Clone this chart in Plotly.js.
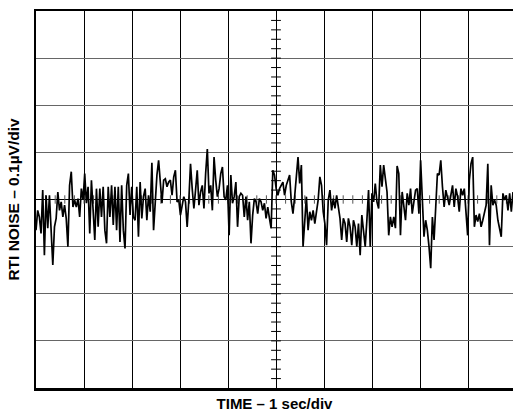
<!DOCTYPE html>
<html>
<head>
<meta charset="utf-8">
<script src="https://cdn.plot.ly/plotly-3.0.1.min.js"></script>
<style>
html,body{margin:0;padding:0;background:#fff;overflow:hidden;}
#chart{width:513px;height:418px;}
</style>
</head>
<body>
<div id="chart"></div>
<script>
// RTI noise trace, values in nV (0.1 µV = 100 nV per division)
const noiseSeg1 = [-65,-23,-37,-72,20,-118,9,-61,9,-86,-139,-58,-40,16,-23,-5,-37,-12,-40,-100,30,59,-16,-1,-16,2,-37,23,-1,55,-8,27,-72,41,-23,-86,23,-58,23,-37,27,-65,-93,27,-37,30,-54,27,-65,27,-90,30,-65,-104,30,55,-33,27,-37,-44,27,-79];
const noiseSeg2 = [37,-40,6,23,-44,9,-26,78,-65,6,52,83,34,-8,41,44,27,37,41,9,48,62,-5,-1,-33,-8,6,-5,-58,-1,76,23,-19,20,62,-12,16,30,-19,55,107,13,30,-23,90,41,6,23,55,69,6,-1,30,-76,52,-8,6,37,-58,6,13,9,-37,6,-44,-5,-93];
const noiseSeg3 = [-33,2,-5,-30,2,-5,-23,-8,-40,-16,-40,-61,62,52,23,9,23,30,37,9,30,41,52,-5,-30,6,52,90,34,73,-100,-44,6,-65,-26,-44,-23,-51,-19,-1,48,30,-26,-51,-97,-1,20,-23,2,-19,9,-16,-40,-86,-40,-51,-90,-40,-58,-97,-44,-58,-100,-51,-118,-33,-65,-100,-44,20,-100,13,-5,34];
const noiseSeg4 = [-5,-19,73,27,73,48,16,-76,-37,-58,-37,-61,71,55,-76,16,-16,-44,13,-12,23,-30,-5,20,23,-30,83,6,-79,-44,-65,-100,-146,-37,-86,-16,55,52,83,27,-16,20,2,-12,9,30,-16,23,6,-26,23,9,23,-30,-76,41,76,90,-58,-33,-47,-30,-58,-44,-26,-12,76,-97,30,-12,-1,-12,-44,-65,-79,13,-1,9,-23,13,-26,16];

const noise = noiseSeg1.concat(noiseSeg2, noiseSeg3, noiseSeg4);
const visibleSpan = 9.9375;           // seconds visible in the frame (1 s/div)
const samplePeriod = visibleSpan / (noise.length - 1);

const xTitle = 'TIME – 1 sec/div';
const yTitle = 'RTI NOISE – 0.1µV/div';

// minor graticule marks along the centre lines (5 per division)
const minorX = [], minorXy = [];
for (let k = 1; k < 50; k++) { minorX.push(k * 0.2); minorXy.push(0); }
const minorYx = [], minorY = [];
for (let k = -19; k <= 19; k++) { minorYx.push(5); minorY.push(k * 20); }

const traces = [
  {x: minorX, y: minorXy, type: 'scatter', mode: 'markers', hoverinfo: 'skip',
   marker: {symbol: 'line-ns', size: 6, color: '#000', line: {width: 1, color: '#555'}}},
  {x: minorYx, y: minorY, type: 'scatter', mode: 'markers', hoverinfo: 'skip',
   marker: {symbol: 'line-ew', size: 7, color: '#000', line: {width: 1, color: '#000'}}},
  {y: noise, x0: 0, dx: samplePeriod, type: 'scatter', mode: 'lines',
   line: {color: '#000', width: 1.7}}
];

const titleFont = {family: 'Liberation Sans, Arial, sans-serif', size: 15, color: '#000', weight: 'bold'};

const layout = {
  width: 513, height: 418,
  margin: {l: 36, r: 0, t: 10.5, b: 30, pad: 0},
  paper_bgcolor: '#fff', plot_bgcolor: '#fff',
  showlegend: false,
  xaxis: {
    range: [0, visibleSpan], dtick: 1, tick0: 0,
    showgrid: true, gridcolor: '#000', gridwidth: 1,
    zeroline: false, showticklabels: false, ticks: '',
    showline: true, linecolor: '#000', linewidth: 2.5, mirror: true,
    title: {text: xTitle, font: titleFont, standoff: 9},
    fixedrange: true
  },
  yaxis: {
    range: [-400, 400], dtick: 100, tick0: 0,
    showgrid: true, gridcolor: '#666', gridwidth: 1.2,
    zeroline: true, zerolinecolor: '#000', zerolinewidth: 1,
    showticklabels: false, ticks: '',
    showline: true, linecolor: '#000', linewidth: 2.5, mirror: false,
    title: {text: yTitle, font: Object.assign({}, titleFont, {size: 15.5}), standoff: 10},
    fixedrange: true
  }
};

Plotly.newPlot('chart', traces, layout, {displayModeBar: false, staticPlot: true});
</script>
</body>
</html>
